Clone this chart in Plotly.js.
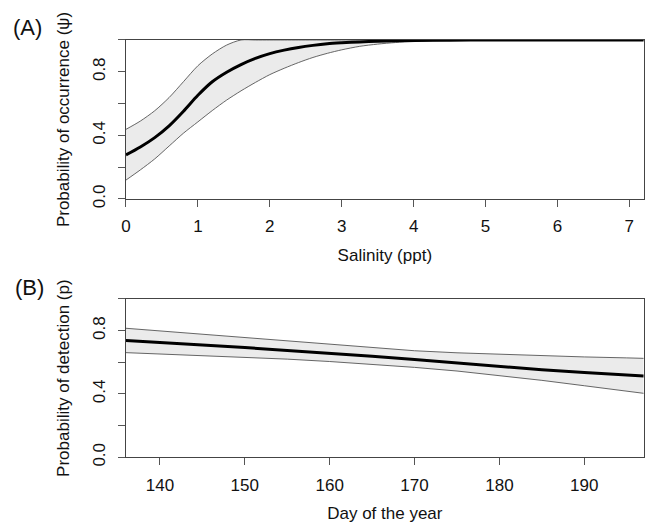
<!DOCTYPE html>
<html>
<head>
<meta charset="utf-8">
<script src="https://cdn.plot.ly/plotly-3.0.1.min.js"></script>
<style>html,body{margin:0;padding:0;background:#fff;}#chart{width:648px;height:526px;}</style>
</head>
<body>
<div id="chart"></div>
<script>
// Panel A: occurrence vs salinity
const salinity = [0,0.2,0.4,0.6,0.8,1.0,1.2,1.4,1.6,1.8,2.0,2.2,2.4,2.6,2.8,3.0,3.25,3.5,3.75,4.0,4.5,5,6,7,7.2];
const psiMean  = [0.277,0.327,0.386,0.46,0.552,0.652,0.737,0.797,0.845,0.884,0.914,0.936,0.953,0.966,0.976,0.982,0.988,0.992,0.995,0.997,0.999,1.0,1.0,1.0,1.0];
const psiUpper = [0.438,0.49,0.555,0.638,0.738,0.838,0.912,0.968,1.0,1.0,1.0,1.0,1.0,1.0,1.0,1.0,1.0,1.0,1.0,1.0,1.0,1.0,1.0,1.0,1.0];
const psiLower = [0.119,0.183,0.252,0.333,0.414,0.485,0.556,0.622,0.68,0.733,0.782,0.822,0.858,0.89,0.916,0.938,0.96,0.974,0.984,0.99,0.997,0.999,1.0,1.0,1.0];

// Panel B: detection vs day of year
const day    = [136,140,145,150,155,160,165,170,175,180,185,190,195,197];
const pMean  = [0.737,0.726,0.71,0.693,0.676,0.658,0.639,0.618,0.596,0.574,0.553,0.535,0.52,0.514];
const pUpper = [0.815,0.798,0.777,0.756,0.735,0.713,0.69,0.673,0.66,0.65,0.642,0.634,0.628,0.625];
const pLower = [0.661,0.653,0.643,0.632,0.62,0.605,0.588,0.568,0.545,0.516,0.486,0.452,0.417,0.404];

const yTickVals = [0,0.2,0.4,0.6,0.8,1.0];
const yTickText = ["0.0","","0.4","","0.8",""];
const salTicks = [0,1,2,3,4,5,6,7];
const dayTicks = [140,150,160,170,180,190];

const FONT = "Liberation Sans, Arial, Helvetica, sans-serif";
const FS = 17;
const bandLineA = {color:'#555', width:0.9, shape:'spline', smoothing:0.8};
const bandLineB = {color:'#555', width:0.9};
const fillCol = '#ebebeb';

const traces = [
  {x:salinity, y:psiLower, xaxis:'x', yaxis:'y', mode:'lines', line:bandLineA, hoverinfo:'skip', showlegend:false},
  {x:salinity, y:psiUpper, xaxis:'x', yaxis:'y', mode:'lines', line:bandLineA, fill:'tonexty', fillcolor:fillCol, hoverinfo:'skip', showlegend:false},
  {x:salinity, y:psiMean, xaxis:'x', yaxis:'y', mode:'lines', line:{color:'#000', width:3, shape:'spline', smoothing:0.8}, showlegend:false},
  {x:day, y:pLower, xaxis:'x2', yaxis:'y2', mode:'lines', line:bandLineB, hoverinfo:'skip', showlegend:false},
  {x:day, y:pUpper, xaxis:'x2', yaxis:'y2', mode:'lines', line:bandLineB, fill:'tonexty', fillcolor:fillCol, hoverinfo:'skip', showlegend:false},
  {x:day, y:pMean, xaxis:'x2', yaxis:'y2', mode:'lines', line:{color:'#000', width:3}, showlegend:false}
];

const axisCommon = {
  showline:true, mirror:true, linecolor:'#444', linewidth:1,
  ticks:'outside', ticklen:7, tickwidth:1, tickcolor:'#555',
  showgrid:false, zeroline:false,
  tickfont:{family:FONT, size:FS, color:'#111'}
};
const titleFont = {family:FONT, size:FS, color:'#111'};

const layout = {
  width:648, height:526,
  margin:{l:0, r:0, t:0, b:0},
  paper_bgcolor:'#fff', plot_bgcolor:'#fff',
  font:{family:FONT, size:FS, color:'#111'},
  xaxis: Object.assign({}, axisCommon, {
    domain:[0.1944, 0.9934], anchor:'y', range:[0,7.2],
    tickvals:salTicks, ticklabelstandoff:5,
    title:{text:'Salinity (ppt)', font:titleFont, standoff:13}
  }),
  yaxis: Object.assign({}, axisCommon, {
    domain:[0.6217, 0.924], anchor:'x', range:[0,1],
    tickvals:yTickVals, ticktext:yTickText, tickangle:-90, ticklabelstandoff:6,
    title:{text:'Probability of occurrence (ψ)', font:titleFont, standoff:16}
  }),
  xaxis2: Object.assign({}, axisCommon, {
    domain:[0.1944, 0.9934], anchor:'y2', range:[136,197],
    tickvals:dayTicks, ticklabelstandoff:5,
    title:{text:'Day of the year', font:titleFont, standoff:13}
  }),
  yaxis2: Object.assign({}, axisCommon, {
    domain:[0.1306, 0.4316], anchor:'x2', range:[0,1],
    tickvals:yTickVals, ticktext:yTickText, tickangle:-90, ticklabelstandoff:6,
    title:{text:'Probability of detection (p)', font:titleFont, standoff:16}
  }),
  annotations:[
    {text:'(A)', xref:'paper', yref:'paper', x:0.043, y:0.947, xanchor:'center', yanchor:'middle', showarrow:false, font:{family:FONT, size:22, color:'#111'}},
    {text:'(B)', xref:'paper', yref:'paper', x:0.045, y:0.4525, xanchor:'center', yanchor:'middle', showarrow:false, font:{family:FONT, size:22, color:'#111'}}
  ]
};

Plotly.newPlot('chart', traces, layout, {staticPlot:true, displayModeBar:false});
</script>
</body>
</html>
